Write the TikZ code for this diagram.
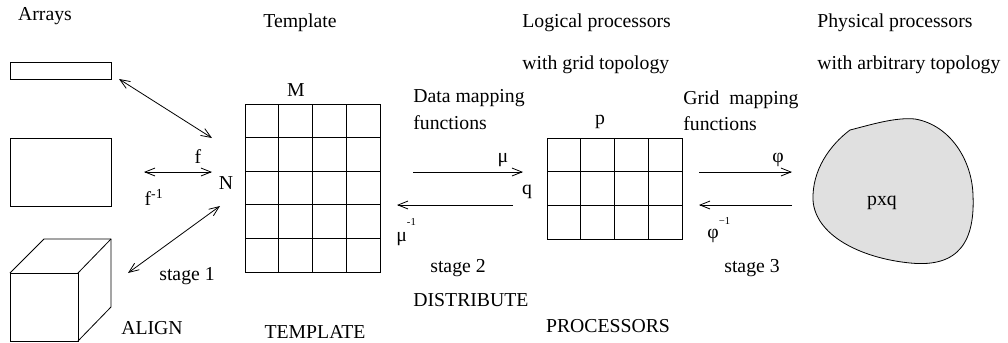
\documentclass[tikz,border=0pt]{standalone}
\usepackage{fontspec}
\setmainfont{Liberation Serif}[Ligatures=TeX]
\usepackage{xcolor}
\usepackage{tikz}
\usetikzlibrary{arrows.meta}
\definecolor{blobgray}{RGB}{224,224,224}

\begin{document}
\begin{tikzpicture}[x=0.75pt,y=-0.75pt,line width=0.6pt,
  lbl/.style={font=\rmfamily\fontsize{14.8}{17}\selectfont, inner sep=0pt},
  map/.style={-{Straight Barb[length=7.5pt,width=6pt]}},
  dmap/.style={{Straight Barb[length=7.5pt,width=6pt]}-{Straight Barb[length=7.5pt,width=6pt]}}]
\useasboundingbox (0,0) rectangle (1008,343);
%TITLES
\node[lbl] (arrays) at (45,16) {Arrays};
\node[lbl,anchor=west] (template) at (263,23) {Template};
\node[lbl,anchor=west] (logproc) at (522,23) {Logical processors};
\node[lbl,anchor=west] (loggrid) at (522,65) {with grid topology};
\node[lbl,anchor=west] (physproc) at (817,23) {Physical processors};
\node[lbl,anchor=west] (phystopo) at (817,65) {with arbitrary topology};
%ARRAYS
\draw (10,62) rectangle (111,79);
\draw (10,138) rectangle (111,206);
\draw (10,273) rectangle (78,341);
\draw (10,273) -- (44,239) -- (111,239) -- (111,307) -- (78,341);
\draw (78,273) -- (111,239);
%ALIGN
\coordinate (f1a) at (119,79);
\coordinate (f1b) at (212,138);
\coordinate (f2a) at (144,172);
\coordinate (f2b) at (212,172);
\coordinate (f3a) at (128,273);
\coordinate (f3b) at (220,206);
\draw[dmap] (f1a) -- (f1b);
\draw[dmap] (f2a) -- (f2b);
\draw[dmap] (f3a) -- (f3b);
\node[lbl] (labf) at (198,157) {f};
\node[lbl] (labN) at (226,183) {N};
\node[lbl] (labfinv) at (154,197) {f\textsuperscript{-1}};
\node[lbl] (stage1) at (187,276) {stage 1};
\node[lbl] (align) at (152,328) {ALIGN};
%TEMPLATE
\draw (245,104) rectangle (380,272);
\draw (278.75,104) -- (278.75,272);
\draw (312.5,104) -- (312.5,272);
\draw (346.25,104) -- (346.25,272);
\draw (245,137.6) -- (380,137.6);
\draw (245,171.2) -- (380,171.2);
\draw (245,204.8) -- (380,204.8);
\draw (245,238.4) -- (380,238.4);
\node[lbl] (labM) at (296,90) {M};
\node[lbl] (templ) at (315,332) {TEMPLATE};
%DISTRIBUTE
\coordinate (mua) at (413,172);
\coordinate (mub) at (523,172);
\coordinate (muia) at (513,205);
\coordinate (muib) at (397,205);
\draw[map] (mua) -- (mub);
\draw[map] (muia) -- (muib);
\node[lbl,anchor=west] (datamap) at (413,98) {Data mapping};
\node[lbl,anchor=west] (datafun) at (413,123) {functions};
\node[lbl] (labmu) at (503,160) {μ};
\node[lbl] (labq) at (527,192) {q};
\node[lbl,anchor=west] (labmuinv) at (396,232) {μ\raisebox{12pt}{\fontsize{8}{9}\selectfont -1}};
\node[lbl] (stage2) at (458,268) {stage 2};
\node[lbl,anchor=west] (distrib) at (413,300) {DISTRIBUTE};
%PROCESSORS
\draw (547,138) rectangle (682,239);
\draw (580.75,138) -- (580.75,239);
\draw (614.5,138) -- (614.5,239);
\draw (648.25,138) -- (648.25,239);
\draw (547,171.7) -- (682,171.7);
\draw (547,205.3) -- (682,205.3);
\node[lbl] (labp) at (600,122) {p};
\node[lbl] (procs) at (608,326) {PROCESSORS};
%GRID MAPPING
\coordinate (phia) at (699,172);
\coordinate (phib) at (792,172);
\coordinate (phiia) at (792,205);
\coordinate (phiib) at (699,205);
\draw[map] (phia) -- (phib);
\draw[map] (phiia) -- (phiib);
\node[lbl,anchor=west] (gridmap) at (683,100) {Grid\ \ mapping};
\node[lbl,anchor=west] (gridfun) at (683,124) {functions};
\node[lbl] (labphi) at (778,160) {φ};
\node[lbl,anchor=west] (labphiinv) at (707,230) {φ\raisebox{11pt}{\fontsize{8}{9}\selectfont −1}};
\node[lbl] (stage3) at (752,268) {stage 3};
%MACHINE
\draw[fill=blobgray] (850,130) .. controls (870,125) and (895,117) .. (915,119)
  .. controls (950,125) and (972,160) .. (973,195)
  .. controls (975,240) and (960,268) .. (910,263)
  .. controls (860,258) and (815,235) .. (813,200)
  .. controls (812,170) and (830,145) .. (850,130) -- cycle;
\node[lbl] (labpxq) at (882,203) {pxq};
\end{tikzpicture}
\end{document}
